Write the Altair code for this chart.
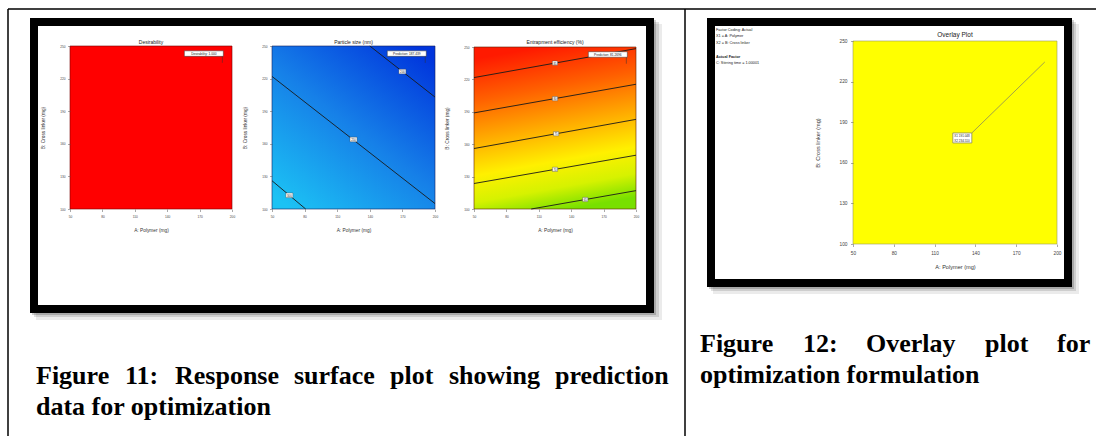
import altair as alt
import pandas as pd

W, H = 1096, 436

# ---------------- data ----------------
x_ticks = [50, 80, 110, 140, 170, 200]
y_ticks = [100, 130, 160, 190, 220, 250]
x_title = "A: Polymer (mg)"
y_title = "B: Cross linker (mg)"

opt_polymer = [191.048]
opt_crosslinker = [234.510]

panel_titles = ["Desirability", "Particle size (nm)", "Entrapment efficiency (%)"]
flag_texts = ["Desirability: 1.000", "Prediction: 187.439", "Prediction: 81.2696"]

ps_line = ["a", "a", "b", "b", "c", "c"]
ps_polymer = [140, 200, 50, 200, 50, 81]
ps_crosslinker = [250, 203, 222, 105, 126, 100]
ps_label_text = ["200", "250", "300"]
ps_label_polymer = [170, 125, 66]
ps_label_crosslinker = [226.5, 164, 112.6]

ee_line = ["a", "a", "b", "b", "c", "c", "d", "d", "e", "e"]
ee_polymer = [50, 200, 50, 200, 50, 200, 50, 200, 103, 200]
ee_crosslinker = [221.7, 248.5, 189, 215.5, 156, 183, 123.6, 149.8, 100, 117]
ee_label_text = ["85", "80", "75", "70", "65"]
ee_label_polymer = [125, 125, 126, 125, 153]
ee_label_crosslinker = [235.1, 202.2, 169.7, 136.7, 108.8]

overlay_flag = ["X1  191.048", "X2  234.510"]
notes = ["Factor Coding: Actual", "X1 = A: Polymer", "X2 = B: Cross linker",
         "Actual Factor", "C: Stirring time = 1.00001"]

cap11_words = ["Figure", "11:", "Response", "surface", "plot", "showing", "prediction"]
cap11_line2 = "data for optimization"
cap12_words = ["Figure", "12:", "Overlay", "plot", "for"]
cap12_line2 = "optimization formulation"

# ---------------- helpers ----------------
one = pd.DataFrame({"k": [0]})
SANS = "Liberation Sans"
SERIF = "Liberation Serif"


def label(text, x, y, size, font=SANS, weight="normal", align="center",
          color="#222", baseline="middle"):
    return alt.Chart(one).mark_text(
        text=text, font=font, fontSize=size, fontWeight=weight, align=align,
        baseline=baseline, color=color
    ).encode(x=alt.value(x), y=alt.value(y))


def box(x, x2, y, y2, **kw):
    return alt.Chart(one).mark_rect(**kw).encode(
        x=alt.value(x), x2=alt.value(x2), y=alt.value(y), y2=alt.value(y2))


def rule(x, x2, y, y2, width=1.5):
    return alt.Chart(one).mark_rule(color="black", strokeWidth=width).encode(
        x=alt.value(x), x2=alt.value(x2), y=alt.value(y), y2=alt.value(y2))


def scales(xr, yr):
    return (alt.Scale(domain=[x_ticks[0], x_ticks[-1]], range=xr, nice=False, zero=False),
            alt.Scale(domain=[y_ticks[0], y_ticks[-1]], range=yr, nice=False, zero=False))


def surface(xr, yr, fill, border, lab_fs, title_fs, xgap, ygap, lpad):
    xs, ys = scales(xr, yr)
    common = dict(grid=False, domain=False, tickSize=2.5, tickColor="#555",
                  tickWidth=0.5, labelFontSize=lab_fs, labelColor="#444",
                  labelPadding=lpad, labelFlush=False, labelOverlap=False,
                  labelFont=SANS, titleFont=SANS, titleFontSize=title_fs,
                  titleFontWeight="normal", titleColor="#333", zindex=1)
    xa = alt.Axis(orient="bottom", offset=yr[0] - H, values=x_ticks, title=x_title,
                  titlePadding=xgap, **common)
    ya = alt.Axis(orient="left", offset=-xr[0], values=y_ticks, title=y_title,
                  titlePadding=ygap, **common)
    df = pd.DataFrame({"p0": [x_ticks[0]], "p1": [x_ticks[-1]],
                       "c0": [y_ticks[0]], "c1": [y_ticks[-1]]})
    return alt.Chart(df).mark_rect(fill=fill, stroke=border, strokeWidth=0.6).encode(
        x=alt.X("p0:Q", scale=xs, axis=xa), x2="p1:Q",
        y=alt.Y("c0:Q", scale=ys, axis=ya), y2="c1:Q")


def contours(xr, yr, ids, px, cy, ltxt, lpx, lcy, hw, hh):
    xs, ys = scales(xr, yr)
    ldf = pd.DataFrame({"id": ids, "p": px, "c": cy, "o": list(range(len(ids)))})
    lines = alt.Chart(ldf).mark_line(color="#1a1a1a", strokeWidth=0.9).encode(
        x=alt.X("p:Q", scale=xs, axis=None), y=alt.Y("c:Q", scale=ys, axis=None),
        detail="id:N", order="o:Q")
    bdf = pd.DataFrame({"t": ltxt, "p": lpx, "c": lcy})
    shape = f"M{-hw},{-hh}H{hw}V{hh}H{-hw}Z"
    boxes = alt.Chart(bdf).mark_point(
        shape=shape, size=4, filled=True, fill="white", stroke="#444",
        strokeWidth=0.4, opacity=1).encode(
        x=alt.X("p:Q", scale=xs, axis=None), y=alt.Y("c:Q", scale=ys, axis=None))
    texts = alt.Chart(bdf).mark_text(fontSize=2.8, font=SANS, color="#222").encode(
        x=alt.X("p:Q", scale=xs, axis=None), y=alt.Y("c:Q", scale=ys, axis=None),
        text="t:N")
    return [lines, boxes, texts]


def flag(xr, yr, shape, texts, dx, dys, fs, align, stroke, sw):
    xs, ys = scales(xr, yr)
    fdf = pd.DataFrame({"p": opt_polymer, "c": opt_crosslinker})
    enc = dict(x=alt.X("p:Q", scale=xs, axis=None), y=alt.Y("c:Q", scale=ys, axis=None))
    out = [alt.Chart(fdf).mark_point(shape=shape, size=4, filled=True, fill="white",
                                     stroke=stroke, strokeWidth=sw, opacity=1).encode(**enc)]
    for t, dy in zip(texts, dys):
        out.append(alt.Chart(fdf).mark_text(text=t, dx=dx, dy=dy, fontSize=fs, font=SANS,
                                            align=align, color="#222").encode(**enc))
    return out


blue_grad = {"gradient": "linear", "x1": 0.11, "y1": 1, "x2": 0.89, "y2": 0,
             "stops": [{"offset": 0, "color": "#1cc2f4"},
                       {"offset": 0.5, "color": "#1680e8"},
                       {"offset": 1, "color": "#0034dc"}]}
ee_grad = {"gradient": "linear", "x1": 0.41, "y1": 0, "x2": 0.59, "y2": 1,
           "stops": [{"offset": 0, "color": "#ff1a00"},
                     {"offset": 0.25, "color": "#ff6000"},
                     {"offset": 0.5, "color": "#ffb000"},
                     {"offset": 0.7, "color": "#fff000"},
                     {"offset": 0.86, "color": "#d6f200"},
                     {"offset": 1, "color": "#78e000"}]}

P1 = ([70, 232], [209, 46])
P2 = ([272, 435], [209, 46])
P3 = ([474, 636], [209, 47])
P4 = ([853, 1057], [244, 41])

flag11 = "M-38,-12H1V-6.5H-38ZM0,-6.5V0"

layers_p = [
    surface(*P1, "#ff0000", "#700", 3.2, 4.8, 10, 14, 2.5),
    *flag(*P1, flag11, [flag_texts[0]], -18.5, [-9.2], 3.2, "center", "#333", 0.5),
    surface(*P2, blue_grad, "#102060", 3.2, 4.8, 10, 14, 2.5),
    *contours(*P2, ps_line, ps_polymer, ps_crosslinker, ps_label_text,
              ps_label_polymer, ps_label_crosslinker, 3.5, 2.3),
    *flag(*P2, flag11, [flag_texts[1]], -18.5, [-9.2], 3.2, "center", "#333", 0.5),
    surface(*P3, ee_grad, "#602000", 3.2, 4.8, 10, 14, 2.5),
    *contours(*P3, ee_line, ee_polymer, ee_crosslinker, ee_label_text,
              ee_label_polymer, ee_label_crosslinker, 2.6, 2.1),
    *flag(*P3, flag11, [flag_texts[2]], -18.5, [-9.2], 3.2, "center", "#333", 0.5),
    surface(*P4, "#ffff00", "#9a9a60", 4.8, 5.6, 10, 18, 3.5),
    *flag(*P4, "M0,0L-73,71M-92,71H-73V81H-92Z", overlay_flag, -90.5, [74, 78.3],
          3.0, "left", "#8a8a5a", 0.8),
]

decor = [
    box(36, 662, 24, 320, fill="#000", opacity=0.08),
    box(34, 659, 22, 317, fill="#000", opacity=0.12),
    box(32, 656, 20, 315, fill="#000", opacity=0.18),
    box(713, 1079, 24, 294, fill="#000", opacity=0.08),
    box(711, 1076, 22, 291, fill="#000", opacity=0.12),
    box(709, 1074, 20, 289, fill="#000", opacity=0.18),
    box(34, 650, 22, 309, fill="white", stroke="black", strokeWidth=8),
    box(711, 1068, 22, 283, fill="white", stroke="black", strokeWidth=8),
    rule(8, 1096, 9, 9),
    rule(8, 8, 9, 436),
    rule(685, 685, 9, 436),
]

texts = [
    label(panel_titles[0], 151, 42, 5),
    label(panel_titles[1], 353.5, 42, 5),
    label(panel_titles[2], 555, 42, 5),
    label("Overlay Plot", 955, 35, 6.5),
]
note_y = [30, 36.3, 42.6, 56.5, 62.8]
for i, (t, yy) in enumerate(zip(notes, note_y)):
    texts.append(label(t, 716, yy, 3.8, align="left",
                       weight="bold" if i == 3 else "normal"))

cap11_x = [36, 125, 175, 294, 390, 449, 555]
cap12_x = [700, 803, 866, 985, 1057]
for w, xx in zip(cap11_words, cap11_x):
    texts.append(label(w, xx, 384, 26, font=SERIF, weight="bold", align="left",
                       color="black", baseline="alphabetic"))
texts.append(label(cap11_line2, 36, 415, 26, font=SERIF, weight="bold", align="left",
                   color="black", baseline="alphabetic"))
for w, xx in zip(cap12_words, cap12_x):
    texts.append(label(w, xx, 352, 26, font=SERIF, weight="bold", align="left",
                       color="black", baseline="alphabetic"))
texts.append(label(cap12_line2, 700, 383, 26, font=SERIF, weight="bold", align="left",
                   color="black", baseline="alphabetic"))

chart = alt.layer(*decor, *layers_p, *texts).resolve_scale(
    x="independent", y="independent"
).properties(width=W, height=H, padding=0, autosize="none").configure_view(stroke=None)

chart.save("out.html", embed_options={"renderer": "svg", "actions": False})
